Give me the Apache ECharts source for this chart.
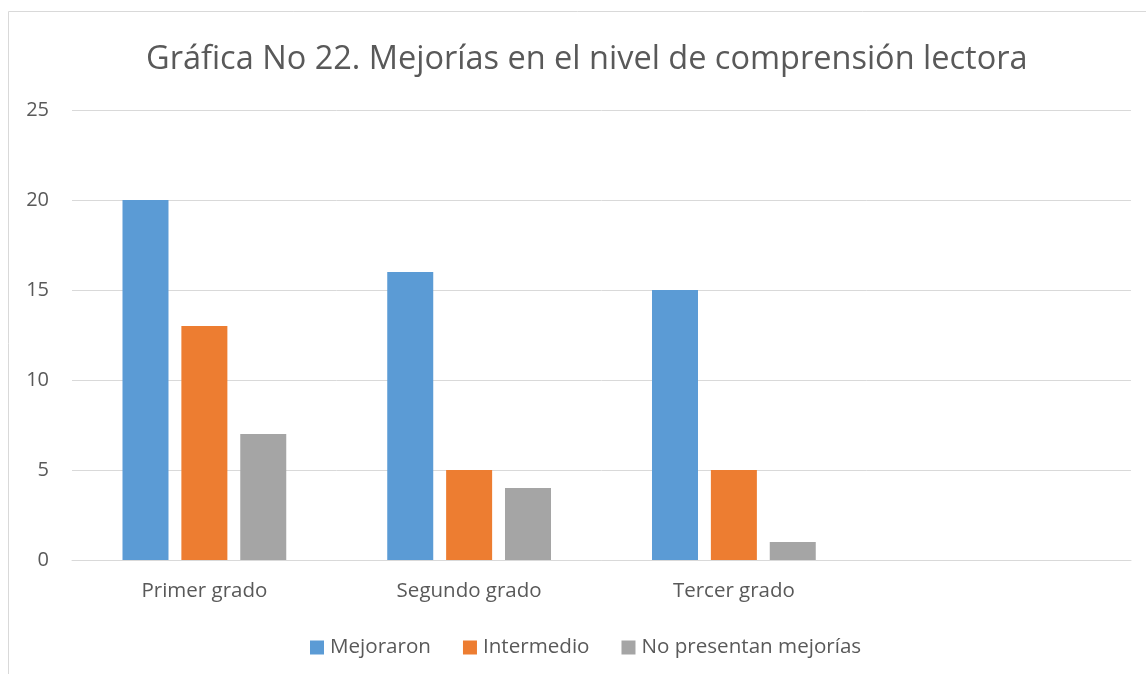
<!DOCTYPE html>
<html lang="es">
<head>
    <meta charset="UTF-8">
    <style>
        body { margin: 0; background: #fff; }
    </style>
</head>
<body>
<div id="chart" style="width: 1146px; height: 674px;"></div>
<script src="https://cdn.jsdelivr.net/npm/echarts@6/dist/echarts.min.js"></script>
<script type="text/javascript">
    var categories = ['Primer grado', 'Segundo grado', 'Tercer grado', ''];
    var mejoraron = [20, 16, 15, '-'];
    var intermedio = [13, 5, 5, '-'];
    var noPresentan = [7, 4, 1, '-'];
    var yTicks = [0, 5, 10, 15, 20, 25];

    var font = 'Open Sans';
    var chart = echarts.init(document.getElementById('chart'));

    function bar(name, data, color) {
        return {
            name: name,
            type: 'bar',
            data: data,
            barWidth: 46,
            barGap: '28%',
            itemStyle: { color: color }
        };
    }

    var option = {
        animation: false,
        textStyle: { fontFamily: font },
        title: {
            text: 'Gráfica No 22. Mejorías en el nivel de comprensión lectora',
            left: 141,
            top: 38,
            textStyle: { fontFamily: font, fontSize: 32.5, fontWeight: 'normal', color: '#595959' }
        },
        legend: {
            top: 632,
            left: 305,
            itemWidth: 14,
            itemHeight: 14,
            itemGap: 32,
            icon: 'rect',
            textStyle: { fontFamily: font, fontSize: 20.6, color: '#595959', padding: [0, 0, 0, 1] },
            data: ['Mejoraron', 'Intermedio', 'No presentan mejorías']
        },
        grid: { left: 72, right: 15, top: 110, bottom: 114 },
        xAxis: {
            type: 'category',
            data: categories,
            axisLine: { lineStyle: { color: '#d9d9d9', width: 1 } },
            axisTick: { show: false },
            axisLabel: { fontFamily: font, fontSize: 20.5, color: '#595959', margin: 21 }
        },
        yAxis: {
            type: 'value',
            min: yTicks[0],
            max: yTicks[yTicks.length - 1],
            interval: 5,
            axisLine: { show: false },
            axisTick: { show: false },
            splitLine: { lineStyle: { color: '#d9d9d9', width: 1 } },
            axisLabel: { fontFamily: font, fontSize: 20, color: '#595959', margin: 23 }
        },
        graphic: [{
            type: 'rect',
            shape: { x: 8.5, y: 11.5, width: 1200, height: 700 },
            style: { fill: 'none', stroke: '#d9d9d9', lineWidth: 1 },
            silent: true
        }],
        series: [
            bar('Mejoraron', mejoraron, '#5b9bd5'),
            bar('Intermedio', intermedio, '#ed7d31'),
            bar('No presentan mejorías', noPresentan, '#a5a5a5')
        ]
    };

    chart.setOption(option);
</script>
</body>
</html>
